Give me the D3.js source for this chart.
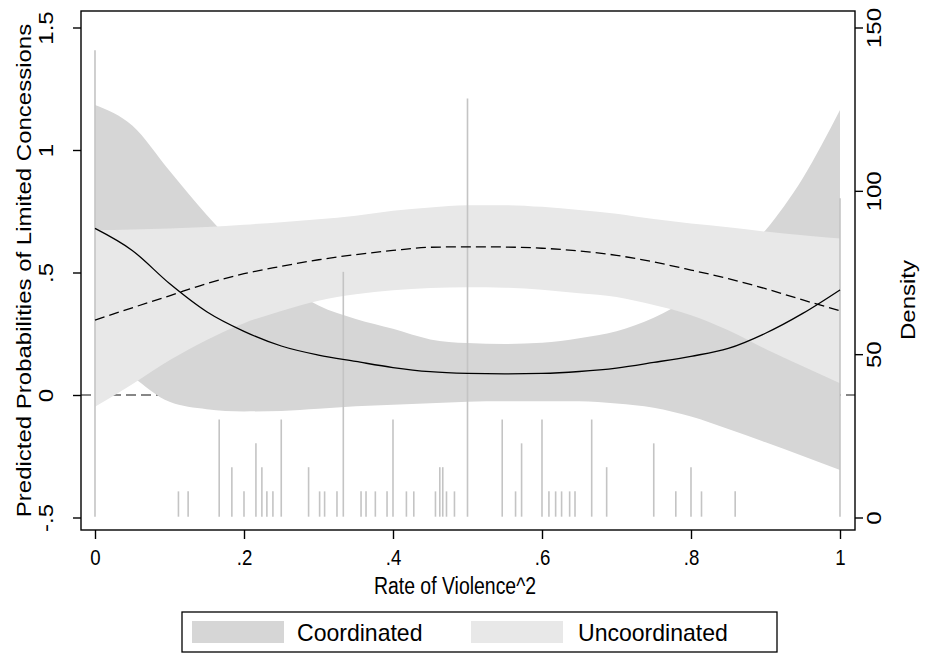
<!DOCTYPE html>
<html><head><meta charset="utf-8">
<script src="https://cdn.jsdelivr.net/npm/d3@7"></script>
<style>body{margin:0;background:#fff}</style>
</head><body>
<svg id="chart" width="925" height="656"></svg>
<script>
// ---- data ----
const xGrid    = [0,0.05,0.1,0.15,0.2,0.25,0.3,0.35,0.4,0.45,0.5,0.55,0.6,0.65,0.7,0.75,0.8,0.85,0.9,0.95,1];
const coordFit = [0.68,0.59,0.455,0.34,0.26,0.20,0.163,0.137,0.112,0.095,0.088,0.086,0.088,0.096,0.11,0.133,0.158,0.19,0.252,0.333,0.429];
const coordHi  = [1.184,1.10,0.915,0.735,0.58,0.46,0.365,0.31,0.27,0.227,0.212,0.208,0.213,0.232,0.26,0.315,0.40,0.515,0.672,0.885,1.163];
const coordLo  = [0.18,0.075,-0.028,-0.058,-0.067,-0.065,-0.056,-0.046,-0.04,-0.034,-0.028,-0.026,-0.026,-0.026,-0.035,-0.052,-0.088,-0.139,-0.193,-0.249,-0.306];
const uncoFit  = [0.306,0.356,0.405,0.455,0.495,0.525,0.552,0.573,0.59,0.603,0.605,0.604,0.599,0.588,0.57,0.543,0.51,0.475,0.434,0.388,0.344];
const uncoHi   = [0.673,0.676,0.68,0.686,0.695,0.705,0.717,0.732,0.752,0.765,0.774,0.775,0.768,0.755,0.74,0.718,0.70,0.685,0.667,0.652,0.639];
const uncoLo   = [-0.048,0.044,0.142,0.225,0.293,0.343,0.385,0.411,0.428,0.437,0.44,0.438,0.43,0.415,0.40,0.367,0.326,0.264,0.188,0.117,0.048];

const spikeX       = [0,0.112,0.125,0.1667,0.1837,0.2,0.216,0.224,0.2307,0.2388,0.25,0.2867,0.3015,0.3082,0.3248,0.3333,0.3571,0.3638,0.3763,0.392,0.4,0.418,0.4279,0.457,0.4628,0.4668,0.4718,0.4825,0.5,0.5466,0.5645,0.5726,0.6,0.6093,0.6183,0.6263,0.6371,0.6443,0.6667,0.6868,0.75,0.7796,0.8,0.8141,0.8593,1];
const spikeDensity = [143,8,8,30,15.4,8,22.7,15.4,8,8,30,15.4,8,8,8,75.2,8,8,8,8,30,8,8,8,15.4,15.4,8,8,128.3,30,8,22.7,30,8,8,8,8,8,30,15.4,22.7,8,15.4,8,8,97.7];

const xTicks = [0,0.2,0.4,0.6,0.8,1];
const xTickLabels = ["0",".2",".4",".6",".8","1"];
const yTicks = [-0.5,0,0.5,1,1.5];
const yTickLabels = ["-.5","0",".5","1","1.5"];
const dTicks = [0,50,100,150];
const dTickLabels = ["0","50","100","150"];
const legendLabels = ["Coordinated","Uncoordinated"];
const xTitle = "Rate of Violence^2";
const yTitle = "Predicted Probabilities of Limited Concessions";
const dTitle = "Density";

// ---- styles ----
const DARK = "#d6d6d6", LIGHT = "#e8e8e8", SPIKE = "#c4c4c4";
const FONT = "'Liberation Sans', Arial, sans-serif";
const FS = 24, SQ = 0.81; // font size and horizontal squeeze of the picture

const svg = d3.select("#chart");
const x = d3.scaleLinear([0,1],[95,840]);
const y = d3.scaleLinear([-0.5,1.5],[517.5,27.5]);
const yd = d3.scaleLinear([0,150],[517.5,27.5]);
const L = 81, R = 855, T = 11, B = 530;

// zero reference line
svg.append("line").attr("x1",L).attr("x2",R).attr("y1",y(0)).attr("y2",y(0))
  .attr("stroke","#111").attr("stroke-width",1.2).attr("stroke-dasharray","10,5");

const rows = xGrid.map((v,i)=>({x:v,cf:coordFit[i],ch:coordHi[i],cl:coordLo[i],uf:uncoFit[i],uh:uncoHi[i],ul:uncoLo[i]}));
const curve = d3.curveMonotoneX;
svg.append("path").datum(rows).attr("fill",DARK)
  .attr("d", d3.area().x(d=>x(d.x)).y0(d=>y(d.cl)).y1(d=>y(d.ch)).curve(curve));
svg.append("path").datum(rows).attr("fill",LIGHT)
  .attr("d", d3.area().x(d=>x(d.x)).y0(d=>y(d.ul)).y1(d=>y(d.uh)).curve(curve));

// density spikes
svg.append("g").selectAll("line").data(spikeX.map((v,i)=>({x:v,d:spikeDensity[i]}))).join("line")
  .attr("x1",d=>x(d.x)).attr("x2",d=>x(d.x)).attr("y1",yd(0)-0.8).attr("y2",d=>yd(d.d))
  .attr("stroke",SPIKE).attr("stroke-width",1.6);

// fitted lines
svg.append("path").datum(rows).attr("fill","none").attr("stroke","#000").attr("stroke-width",1.3)
  .attr("d", d3.line().x(d=>x(d.x)).y(d=>y(d.cf)).curve(curve));
svg.append("path").datum(rows).attr("fill","none").attr("stroke","#000").attr("stroke-width",1.3)
  .attr("stroke-dasharray","10,5")
  .attr("d", d3.line().x(d=>x(d.x)).y(d=>y(d.uf)).curve(curve));

// frame
svg.append("rect").attr("x",L).attr("y",T).attr("width",R-L).attr("height",B-T)
  .attr("fill","none").attr("stroke","#000").attr("stroke-width",1.4);

function styleAxis(g, fs){
  g.select(".domain").remove();
  g.selectAll(".tick line").attr("stroke","#000").attr("stroke-width",1.4);
  g.selectAll("text").attr("font-family",FONT).attr("font-size",fs).attr("fill","#000")
    .attr("x",null).attr("y",null).attr("dy",null).attr("text-anchor","middle");
}
// bottom axis
const gx = svg.append("g").attr("transform",`translate(0,${B})`)
  .call(d3.axisBottom(x).tickValues(xTicks).tickFormat((d,i)=>xTickLabels[i]).tickSize(9));
styleAxis(gx, 23);
gx.selectAll("text").attr("transform",`translate(0,35) scale(${SQ},1)`);
// left axis
const gy = svg.append("g").attr("transform",`translate(${L},0)`)
  .call(d3.axisLeft(y).tickValues(yTicks).tickFormat((d,i)=>yTickLabels[i]).tickSize(8));
styleAxis(gy, FS);
gy.selectAll("text").attr("transform",`translate(-28,0) rotate(-90) scale(1,${SQ})`);
// right axis
const gd = svg.append("g").attr("transform",`translate(${R},0)`)
  .call(d3.axisRight(yd).tickValues(dTicks).tickFormat((d,i)=>dTickLabels[i]).tickSize(8));
styleAxis(gd, FS);
gd.selectAll("text").attr("transform",`translate(26,0) rotate(-90) scale(1,${SQ})`);

// titles
svg.append("text").attr("transform",`translate(455,594) scale(${SQ},1)`)
  .attr("text-anchor","middle").attr("font-family",FONT).attr("font-size",FS).text(xTitle);
svg.append("text").attr("transform",`translate(31,${(T+B)/2}) rotate(-90) scale(1,${SQ})`)
  .attr("text-anchor","middle").attr("font-family",FONT).attr("font-size",FS).text(yTitle);
svg.append("text").attr("transform",`translate(915,300) rotate(-90) scale(1,${SQ})`)
  .attr("text-anchor","middle").attr("font-family",FONT).attr("font-size",FS).text(dTitle);

// legend
const lg = svg.append("g");
lg.append("rect").attr("x",182).attr("y",612).attr("width",595).attr("height",40)
  .attr("fill","#fff").attr("stroke","#000").attr("stroke-width",1.3);
const items = [{c:DARK,sx:192,tx:297},{c:LIGHT,sx:471,tx:578}];
items.forEach((it,i)=>{
  lg.append("rect").attr("x",it.sx).attr("y",621).attr("width",92).attr("height",22).attr("fill",it.c);
  lg.append("text").attr("transform",`translate(${it.tx},641) scale(0.96,1)`)
    .attr("font-family",FONT).attr("font-size",FS).text(legendLabels[i]);
});
</script>
</body></html>
